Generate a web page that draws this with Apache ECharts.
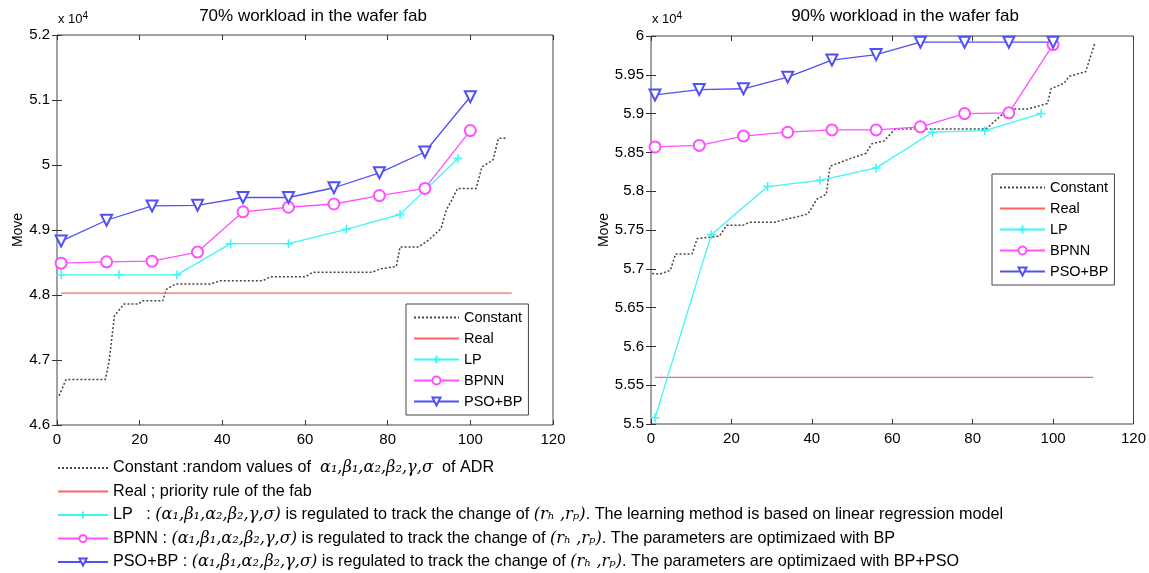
<!DOCTYPE html>
<html>
<head>
<meta charset="utf-8">
<title>Move vs workload</title>
<script src="https://cdn.jsdelivr.net/npm/echarts@6/dist/echarts.min.js"></script>
<style>
html, body { margin: 0; padding: 0; background: #fff; }
#chart { width: 1149px; height: 573px; }
</style>
</head>
<body>
<div id="chart"></div>
<script>
// series names, shared by both panels
var seriesNames = ['Constant', 'Real', 'LP', 'BPNN', 'PSO+BP'];

// x positions of the marked points
var markX = [1, 12, 23, 34, 45, 56, 67, 78, 89, 100];
var lpX = [1, 15, 29, 42, 56, 70, 83, 97];
var realX = [1, 110];

// 70% workload, values in x 10^4
var pso70 = [4.883, 4.915, 4.937, 4.938, 4.950, 4.950, 4.965, 4.988, 5.020, 5.105];
var bpnn70 = [4.849, 4.851, 4.852, 4.866, 4.928, 4.935, 4.940, 4.953, 4.964, 5.053];
var lp70 = [4.831, 4.831, 4.831, 4.879, 4.879, 4.901, 4.924, 5.010];
var real70 = [4.803, 4.803];
var constX70 = [0.5, 2.2, 11.7, 12.6, 13.9, 16.2, 19.7, 20.6, 25.6, 26.5, 28.7, 37.2, 39.5, 49.8, 51.6, 60.1,
    61.9, 76.3, 78.1, 82.1, 83.0, 87.5, 89.8, 92.9, 94.2, 95.6, 96.9, 101.4, 102.8, 105.5, 106.8, 109];
var const70 = [4.645, 4.670, 4.670, 4.698, 4.768, 4.786, 4.786, 4.791, 4.791, 4.809, 4.817, 4.817, 4.822, 4.822, 4.828, 4.828,
    4.835, 4.835, 4.840, 4.844, 4.874, 4.874, 4.884, 4.902, 4.931, 4.947, 4.964, 4.964, 4.997, 5.008, 5.041, 5.041];

// 90% workload, values in x 10^4
var pso90 = [5.924, 5.931, 5.932, 5.947, 5.969, 5.976, 5.992, 5.992, 5.992, 5.992];
var bpnn90 = [5.857, 5.859, 5.871, 5.876, 5.879, 5.879, 5.883, 5.900, 5.901, 5.989];
var lp90 = [5.508, 5.744, 5.806, 5.814, 5.830, 5.876, 5.878, 5.900];
var real90 = [5.56, 5.56];
var constX90 = [0.3, 2.1, 4.8, 6.1, 10.2, 11.5, 17.0, 18.8, 22.8, 24.6, 30.9, 32.8, 36.4, 39.1, 41.3, 43.6,
    44.5, 49.0, 53.5, 54.9, 58.0, 60.7, 83.3, 86.9, 89.1, 93.7, 98.6, 99.5, 102.7, 104, 108.1, 110.4];
var const90 = [5.694, 5.693, 5.698, 5.719, 5.719, 5.739, 5.742, 5.756, 5.756, 5.760, 5.760, 5.763, 5.767, 5.771, 5.790, 5.796,
    5.832, 5.841, 5.849, 5.861, 5.865, 5.880, 5.880, 5.897, 5.906, 5.906, 5.913, 5.932, 5.939, 5.948, 5.954, 5.991];

// axis ticks
var xTicks = {min: 0, max: 120, interval: 20};
var yTicks70 = {min: 4.6, max: 5.2, interval: 0.1};
var yTicks90 = {min: 5.5, max: 6, interval: 0.05};

var titles = ['70% workload in the wafer fab', '90% workload in the wafer fab'];

// text of the notes under the charts
var notes = {
    'Constant': 'Constant :random values of  {i|α₁,β₁,α₂,β₂,γ,σ}  of ADR',
    'Real': 'Real ; priority rule of the fab',
    'LP': 'LP   : {i|(α₁,β₁,α₂,β₂,γ,σ)} is regulated to track the change of {i|(rₕ ,rₚ)}. The learning method is based on linear regression model',
    'BPNN': 'BPNN : {i|(α₁,β₁,α₂,β₂,γ,σ)} is regulated to track the change of {i|(rₕ ,rₚ)}. The parameters are optimizaed with BP',
    'PSO+BP': 'PSO+BP : {i|(α₁,β₁,α₂,β₂,γ,σ)} is regulated to track the change of {i|(rₕ ,rₚ)}. The parameters are optimizaed with BP+PSO'
};

var FONT = 'Liberation Sans, Arial, sans-serif';

function pairs(xs, ys) {
    return xs.map(function (x, i) { return [x, ys[i]]; });
}

function lineSeries(name, axisIdx, data) {
    var s = {
        name: name,
        type: 'line',
        xAxisIndex: axisIdx,
        yAxisIndex: axisIdx,
        data: data,
        animation: false,
        symbol: 'none',
        lineStyle: {width: 1.3}
    };
    if (name == 'Constant') {
        s.lineStyle = {width: 1.5, color: '#444', type: [2, 2]};
        // opacity 0 so the legend does not draw a dot
        s.itemStyle = {color: '#444', opacity: 0};
    } else if (name == 'Real') {
        s.lineStyle = {width: 1.3, color: '#ff6464'};
        s.itemStyle = {color: '#ff6464', opacity: 0};
    } else if (name == 'LP') {
        s.lineStyle = {width: 1.3, color: '#3ff5f5'};
        s.symbol = 'path://M5,0L5,10M0,5L10,5';
        s.symbolSize = 9;
        s.itemStyle = {color: '#3ff5f5', borderColor: '#3ff5f5', borderWidth: 1.5};
    } else if (name == 'BPNN') {
        s.lineStyle = {width: 1.3, color: '#ff50ff'};
        s.symbol = 'emptyCircle';
        s.symbolSize = 11;
        s.itemStyle = {color: '#ff50ff', borderWidth: 1.3};
    } else {
        s.lineStyle = {width: 1.3, color: '#5050f5'};
        s.symbol = 'emptyTriangle';
        s.symbolRotate = 180;
        s.symbolSize = 11;
        s.itemStyle = {color: '#5050f5', borderWidth: 1.3};
    }
    return s;
}

function axisPair(gridIdx, ticks, isX, nameGap) {
    var main = {
        type: 'value',
        gridIndex: gridIdx,
        min: ticks.min, max: ticks.max, interval: ticks.interval,
        position: isX ? 'bottom' : 'left',
        axisLine: {show: false},
        axisTick: {show: true, inside: true, length: 5, lineStyle: {color: '#333'}},
        axisLabel: {color: '#000', fontSize: 15, fontFamily: FONT, margin: 7},
        splitLine: {show: false}
    };
    if (!isX) {
        main.name = 'Move';
        main.nameLocation = 'middle';
        main.nameGap = nameGap;
        main.nameTextStyle = {color: '#000', fontSize: 14, fontFamily: FONT};
    }
    var other = {
        type: 'value',
        gridIndex: gridIdx,
        min: ticks.min, max: ticks.max, interval: ticks.interval,
        position: isX ? 'top' : 'right',
        axisLine: {show: false},
        axisTick: {show: true, inside: true, length: 5, lineStyle: {color: '#333'}},
        axisLabel: {show: false},
        splitLine: {show: false}
    };
    return [main, other];
}

var myChart = echarts.init(document.getElementById('chart'));

var boxLegend = {
    data: seriesNames,
    orient: 'vertical',
    itemWidth: 45,
    itemHeight: 10,
    itemGap: 6,
    padding: [6, 6, 6, 7],
    borderColor: '#444',
    borderWidth: 1,
    backgroundColor: '#fff',
    textStyle: {color: '#000', fontSize: 14.5, fontFamily: FONT}
};

var titleStyle = {fontSize: 17, fontWeight: 'normal', color: '#000', fontFamily: FONT};

var option = {
    backgroundColor: '#fff',
    animation: false,
    title: [
        {text: titles[0], left: 308, top: 3, textAlign: 'center', textStyle: titleStyle},
        {text: titles[1], left: 900, top: 3, textAlign: 'center', textStyle: titleStyle}
    ],
    grid: [
        {left: 57, top: 35, width: 496, height: 390, show: true, borderColor: '#444', borderWidth: 1, backgroundColor: '#fff'},
        {left: 651, top: 36, width: 484, height: 388, show: true, borderColor: '#444', borderWidth: 1, backgroundColor: '#fff'}
    ],
    xAxis: axisPair(0, xTicks, true).concat(axisPair(1, xTicks, true)),
    yAxis: axisPair(0, yTicks70, false, 32).concat(axisPair(1, yTicks90, false, 30)),
    legend: [
        Object.assign({}, boxLegend, {left: 406, top: 304}),
        Object.assign({}, boxLegend, {left: 992, top: 174}),
        {
            data: seriesNames,
            orient: 'vertical',
            left: 57,
            top: 460,
            itemWidth: 50,
            itemHeight: 9,
            itemGap: 7.5,
            padding: 0,
            formatter: function (name) { return notes[name]; },
            textStyle: {
                color: '#000', fontSize: 16.2, fontFamily: FONT,
                rich: {i: {fontStyle: 'italic', fontSize: 16.2, fontFamily: 'DejaVu Serif, serif', color: '#000'}}
            }
        }
    ],
    graphic: [
        {type: 'text', left: 58, top: 11, style: {text: 'x 10{s|4}', fill: '#000', font: '13px ' + FONT,
            rich: {s: {fontSize: 10, verticalAlign: 'top', padding: [0, 0, 7, 0]}}}},
        {type: 'text', left: 652, top: 11, style: {text: 'x 10{s|4}', fill: '#000', font: '13px ' + FONT,
            rich: {s: {fontSize: 10, verticalAlign: 'top', padding: [0, 0, 7, 0]}}}}
    ],
    series: [
        lineSeries('Constant', 0, pairs(constX70, const70)),
        lineSeries('Real', 0, pairs(realX, real70)),
        lineSeries('LP', 0, pairs(lpX, lp70)),
        lineSeries('BPNN', 0, pairs(markX, bpnn70)),
        lineSeries('PSO+BP', 0, pairs(markX, pso70)),
        lineSeries('Constant', 2, pairs(constX90, const90)),
        lineSeries('Real', 2, pairs(realX, real90)),
        lineSeries('LP', 2, pairs(lpX, lp90)),
        lineSeries('BPNN', 2, pairs(markX, bpnn90)),
        lineSeries('PSO+BP', 2, pairs(markX, pso90))
    ]
};

myChart.setOption(option);
</script>
</body>
</html>
